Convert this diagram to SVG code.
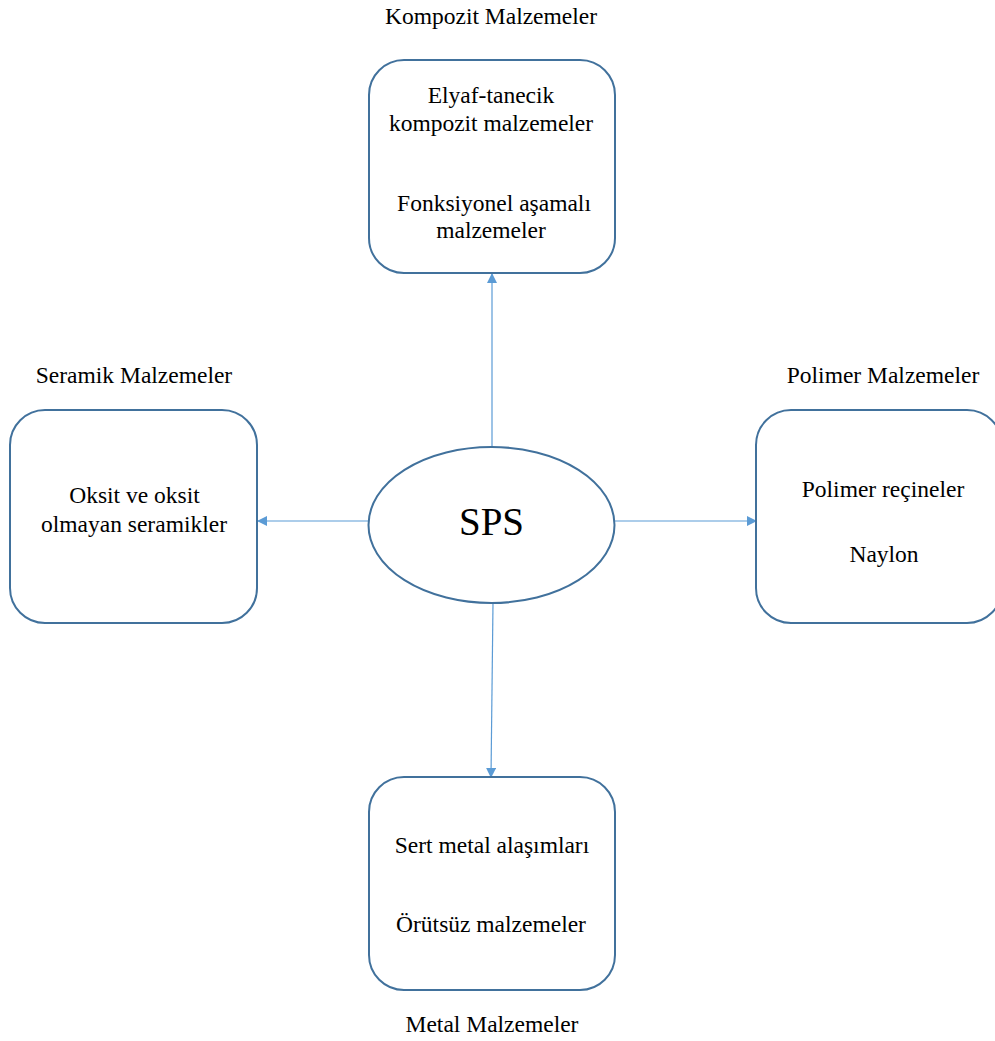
<svg xmlns="http://www.w3.org/2000/svg" width="995" height="1041" viewBox="0 0 995 1041">
<style>
.box{fill:#fff;stroke:#41719C;stroke-width:2}
.t{font-family:"Liberation Serif","Times New Roman",serif;font-size:23.5px;fill:#000;text-anchor:middle}
.conn{stroke:#5B9BD5;stroke-width:1.2;fill:none;marker-end:url(#ah)}
</style>
<defs>
<marker id="ah" viewBox="0 0 10 10" refX="9" refY="5" markerWidth="10" markerHeight="10" markerUnits="userSpaceOnUse" orient="auto">
<path d="M0,0 L10,5 L0,10 z" fill="#5B9BD5"/>
</marker>
</defs>
<rect width="995" height="1041" fill="#fff"/>
<g id="connectors">
<line class="conn" x1="492" y1="447" x2="492" y2="274"/>
<line class="conn" x1="368" y1="521" x2="258" y2="521"/>
<line class="conn" x1="615" y1="521" x2="756" y2="521"/>
<line class="conn" x1="493" y1="603" x2="491" y2="777"/>
</g>
<g id="kompozit">
<rect class="box" x="369" y="60" width="246" height="213" rx="35"/>
<text class="t" x="491" y="24">Kompozit Malzemeler</text>
<text class="t" x="491" y="103">Elyaf-tanecik</text>
<text class="t" x="491" y="131">kompozit malzemeler</text>
<text class="t" x="494" y="211">Fonksiyonel aşamalı</text>
<text class="t" x="491" y="238">malzemeler</text>
</g>
<g id="sps">
<ellipse class="box" cx="491.5" cy="525" rx="123" ry="78"/>
<text class="t" x="491.5" y="535" style="font-size:39px">SPS</text>
</g>
<g id="seramik">
<rect class="box" x="10" y="410" width="247" height="213" rx="35"/>
<text class="t" x="134" y="383">Seramik Malzemeler</text>
<text class="t" x="134.5" y="503">Oksit ve oksit</text>
<text class="t" x="134" y="532">olmayan seramikler</text>
</g>
<g id="polimer">
<rect class="box" x="756" y="410" width="246" height="213" rx="35"/>
<text class="t" x="883" y="383">Polimer Malzemeler</text>
<text class="t" x="883" y="497">Polimer reçineler</text>
<text class="t" x="884" y="562">Naylon</text>
</g>
<g id="metal">
<rect class="box" x="369" y="777" width="246" height="213" rx="35"/>
<text class="t" x="492" y="853">Sert metal alaşımları</text>
<text class="t" x="491" y="932">Örütsüz malzemeler</text>
<text class="t" x="492" y="1032">Metal Malzemeler</text>
</g>
</svg>
